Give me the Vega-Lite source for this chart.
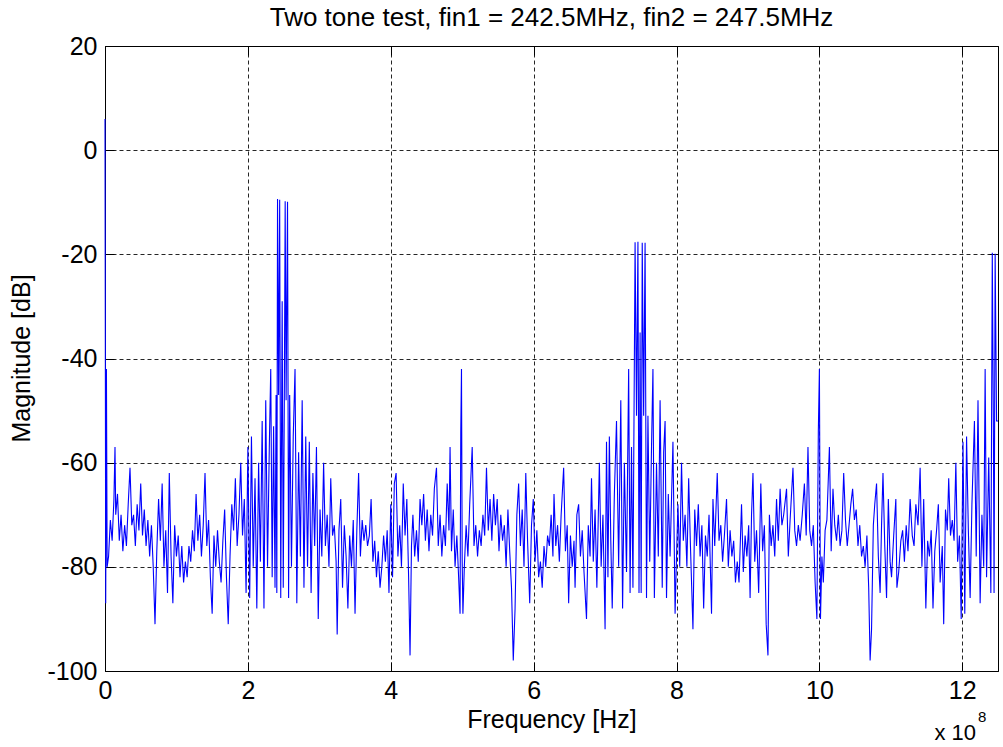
{
  "$schema": "https://vega.github.io/schema/vega-lite/v6.json",
  "width": 893,
  "height": 625,
  "autosize": "none",
  "padding": {"left": 105, "top": 46, "right": 5, "bottom": 76},
  "background": "white",
  "datasets": {
    "spec": [
      {"f":0,"m":6},{"f":0.01,"m":-87},{"f":0.02,"m":-42},{"f":0.03,"m":-80},{"f":0.05,"m":-78},{"f":0.075,"m":-71},{"f":0.1,"m":-75},{"f":0.125,"m":-67},{"f":0.14,"m":-57},{"f":0.15,"m":-70},
      {"f":0.175,"m":-66},{"f":0.2,"m":-75},{"f":0.225,"m":-70},{"f":0.25,"m":-77},{"f":0.275,"m":-72},{"f":0.3,"m":-76},{"f":0.325,"m":-68},{"f":0.35,"m":-61},{"f":0.375,"m":-72},{"f":0.4,"m":-70},
      {"f":0.425,"m":-76},{"f":0.45,"m":-68},{"f":0.475,"m":-73},{"f":0.5,"m":-64},{"f":0.525,"m":-74},{"f":0.55,"m":-69},{"f":0.575,"m":-76},{"f":0.6,"m":-71},{"f":0.625,"m":-78},{"f":0.65,"m":-72},
      {"f":0.675,"m":-80},{"f":0.7,"m":-91},{"f":0.725,"m":-77},{"f":0.75,"m":-67},{"f":0.775,"m":-75},{"f":0.8,"m":-64},{"f":0.825,"m":-80},{"f":0.85,"m":-73},{"f":0.875,"m":-85},{"f":0.9,"m":-62},
      {"f":0.925,"m":-78},{"f":0.95,"m":-87},{"f":0.975,"m":-72},{"f":1.0,"m":-78},{"f":1.025,"m":-74},{"f":1.05,"m":-82},{"f":1.075,"m":-76},{"f":1.1,"m":-83},{"f":1.125,"m":-79},{"f":1.15,"m":-82},
      {"f":1.175,"m":-76},{"f":1.2,"m":-79},{"f":1.225,"m":-73},{"f":1.25,"m":-77},{"f":1.275,"m":-66},{"f":1.3,"m":-75},{"f":1.325,"m":-70},{"f":1.35,"m":-78},{"f":1.375,"m":-72},{"f":1.4,"m":-62},
      {"f":1.425,"m":-76},{"f":1.45,"m":-71},{"f":1.475,"m":-82},{"f":1.5,"m":-89},{"f":1.525,"m":-74},{"f":1.55,"m":-80},{"f":1.575,"m":-73},{"f":1.6,"m":-79},{"f":1.625,"m":-83},{"f":1.65,"m":-75},
      {"f":1.675,"m":-69},{"f":1.7,"m":-82},{"f":1.725,"m":-91},{"f":1.75,"m":-78},{"f":1.775,"m":-68},{"f":1.8,"m":-73},{"f":1.825,"m":-63},{"f":1.85,"m":-76},{"f":1.875,"m":-70},{"f":1.9,"m":-60},
      {"f":1.925,"m":-74},{"f":1.95,"m":-67},{"f":1.975,"m":-85},{"f":2.0,"m":-57},{"f":2.025,"m":-86},{"f":2.05,"m":-55},{"f":2.075,"m":-80},{"f":2.1,"m":-63},{"f":2.125,"m":-88},{"f":2.15,"m":-60},
      {"f":2.175,"m":-79},{"f":2.2,"m":-52},{"f":2.225,"m":-88},{"f":2.25,"m":-48},{"f":2.275,"m":-80},{"f":2.3,"m":-57},{"f":2.32,"m":-42},{"f":2.34,"m":-82},{"f":2.36,"m":-53},{"f":2.38,"m":-84},
      {"f":2.395,"m":-47},{"f":2.405,"m":-85},{"f":2.415,"m":-9.4},{"f":2.43,"m":-47},{"f":2.445,"m":-9.5},{"f":2.46,"m":-86},{"f":2.48,"m":-29},{"f":2.495,"m":-84},{"f":2.51,"m":-48},{"f":2.522,"m":-9.8},
      {"f":2.535,"m":-48},{"f":2.555,"m":-9.9},{"f":2.57,"m":-86},{"f":2.585,"m":-47},{"f":2.61,"m":-80},{"f":2.635,"m":-55},{"f":2.66,"m":-42},{"f":2.685,"m":-87},{"f":2.71,"m":-58},{"f":2.735,"m":-78},
      {"f":2.76,"m":-48},{"f":2.785,"m":-84},{"f":2.81,"m":-55},{"f":2.835,"m":-80},{"f":2.86,"m":-56},{"f":2.885,"m":-85},{"f":2.91,"m":-62},{"f":2.935,"m":-76},{"f":2.96,"m":-57},{"f":2.985,"m":-90},
      {"f":3.01,"m":-69},{"f":3.035,"m":-78},{"f":3.06,"m":-60},{"f":3.085,"m":-76},{"f":3.11,"m":-70},{"f":3.135,"m":-80},{"f":3.16,"m":-63},{"f":3.185,"m":-74},{"f":3.21,"m":-72},{"f":3.235,"m":-79},
      {"f":3.25,"m":-93},{"f":3.275,"m":-73},{"f":3.3,"m":-67},{"f":3.325,"m":-84},{"f":3.35,"m":-72},{"f":3.375,"m":-78},{"f":3.4,"m":-88},{"f":3.425,"m":-74},{"f":3.45,"m":-80},{"f":3.475,"m":-71},
      {"f":3.5,"m":-89},{"f":3.525,"m":-73},{"f":3.55,"m":-62},{"f":3.575,"m":-78},{"f":3.6,"m":-71},{"f":3.625,"m":-75},{"f":3.65,"m":-72},{"f":3.675,"m":-76},{"f":3.7,"m":-74},{"f":3.725,"m":-67},
      {"f":3.75,"m":-79},{"f":3.775,"m":-75},{"f":3.8,"m":-82},{"f":3.825,"m":-77},{"f":3.85,"m":-84},{"f":3.875,"m":-80},{"f":3.9,"m":-74},{"f":3.925,"m":-79},{"f":3.95,"m":-73},{"f":3.975,"m":-85},
      {"f":4.0,"m":-68},{"f":4.025,"m":-82},{"f":4.05,"m":-64},{"f":4.075,"m":-62},{"f":4.1,"m":-78},{"f":4.125,"m":-72},{"f":4.15,"m":-80},{"f":4.175,"m":-64},{"f":4.2,"m":-74},{"f":4.225,"m":-67},
      {"f":4.25,"m":-82},{"f":4.27,"m":-97},{"f":4.29,"m":-76},{"f":4.31,"m":-70},{"f":4.335,"m":-78},{"f":4.36,"m":-73},{"f":4.385,"m":-79},{"f":4.41,"m":-67},{"f":4.435,"m":-72},{"f":4.46,"m":-66},
      {"f":4.485,"m":-75},{"f":4.51,"m":-69},{"f":4.535,"m":-77},{"f":4.56,"m":-70},{"f":4.585,"m":-74},{"f":4.61,"m":-65},{"f":4.64,"m":-61},{"f":4.665,"m":-76},{"f":4.69,"m":-70},{"f":4.715,"m":-78},
      {"f":4.74,"m":-72},{"f":4.765,"m":-76},{"f":4.79,"m":-64},{"f":4.815,"m":-73},{"f":4.83,"m":-57},{"f":4.85,"m":-77},{"f":4.875,"m":-69},{"f":4.9,"m":-80},{"f":4.925,"m":-74},{"f":4.95,"m":-82},
      {"f":4.97,"m":-89},{"f":4.98,"m":-54},{"f":4.99,"m":-42},{"f":5.0,"m":-79},{"f":5.01,"m":-89},{"f":5.03,"m":-80},{"f":5.055,"m":-72},{"f":5.08,"m":-78},{"f":5.105,"m":-68},{"f":5.14,"m":-57},
      {"f":5.165,"m":-76},{"f":5.19,"m":-72},{"f":5.215,"m":-78},{"f":5.24,"m":-73},{"f":5.265,"m":-76},{"f":5.29,"m":-70},{"f":5.315,"m":-74},{"f":5.34,"m":-61},{"f":5.365,"m":-73},{"f":5.39,"m":-67},
      {"f":5.415,"m":-75},{"f":5.44,"m":-66},{"f":5.465,"m":-72},{"f":5.49,"m":-67},{"f":5.515,"m":-77},{"f":5.54,"m":-70},{"f":5.565,"m":-75},{"f":5.59,"m":-72},{"f":5.615,"m":-80},{"f":5.64,"m":-69},
      {"f":5.665,"m":-77},{"f":5.69,"m":-84},{"f":5.715,"m":-98},{"f":5.74,"m":-88},{"f":5.765,"m":-70},{"f":5.79,"m":-64},{"f":5.815,"m":-76},{"f":5.84,"m":-69},{"f":5.865,"m":-80},{"f":5.89,"m":-62},
      {"f":5.915,"m":-75},{"f":5.945,"m":-87},{"f":5.97,"m":-72},{"f":5.995,"m":-67},{"f":6.02,"m":-79},{"f":6.045,"m":-73},{"f":6.07,"m":-82},{"f":6.095,"m":-79},{"f":6.12,"m":-84},{"f":6.145,"m":-76},
      {"f":6.17,"m":-80},{"f":6.195,"m":-74},{"f":6.22,"m":-76},{"f":6.245,"m":-70},{"f":6.27,"m":-78},{"f":6.285,"m":-66},{"f":6.31,"m":-76},{"f":6.335,"m":-72},{"f":6.36,"m":-79},{"f":6.385,"m":-70},
      {"f":6.42,"m":-61},{"f":6.445,"m":-77},{"f":6.47,"m":-72},{"f":6.49,"m":-87},{"f":6.515,"m":-74},{"f":6.54,"m":-80},{"f":6.565,"m":-75},{"f":6.58,"m":-84},{"f":6.605,"m":-70},{"f":6.63,"m":-68},
      {"f":6.655,"m":-78},{"f":6.68,"m":-73},{"f":6.705,"m":-81},{"f":6.74,"m":-90},{"f":6.765,"m":-72},{"f":6.79,"m":-78},{"f":6.81,"m":-63},{"f":6.835,"m":-79},{"f":6.86,"m":-69},{"f":6.885,"m":-84},
      {"f":6.92,"m":-60},{"f":6.945,"m":-80},{"f":6.97,"m":-70},{"f":7.0,"m":-92},{"f":7.02,"m":-56},{"f":7.04,"m":-82},{"f":7.06,"m":-55},{"f":7.08,"m":-75},{"f":7.1,"m":-88},{"f":7.13,"m":-66},
      {"f":7.16,"m":-52},{"f":7.19,"m":-80},{"f":7.22,"m":-48},{"f":7.245,"m":-88},{"f":7.27,"m":-60},{"f":7.3,"m":-81},{"f":7.33,"m":-42},{"f":7.35,"m":-85},{"f":7.37,"m":-57},{"f":7.39,"m":-84},
      {"f":7.405,"m":-51},{"f":7.42,"m":-17.7},{"f":7.44,"m":-51},{"f":7.46,"m":-17.6},{"f":7.475,"m":-85},{"f":7.49,"m":-35},{"f":7.505,"m":-85},{"f":7.52,"m":-17.8},{"f":7.54,"m":-51},{"f":7.56,"m":-17.8},
      {"f":7.58,"m":-86},{"f":7.6,"m":-51},{"f":7.625,"m":-79},{"f":7.65,"m":-57},{"f":7.67,"m":-42},{"f":7.69,"m":-86},{"f":7.72,"m":-60},{"f":7.745,"m":-78},{"f":7.77,"m":-48},{"f":7.8,"m":-84},
      {"f":7.82,"m":-58},{"f":7.84,"m":-52},{"f":7.86,"m":-86},{"f":7.885,"m":-66},{"f":7.91,"m":-78},{"f":7.95,"m":-56},{"f":7.98,"m":-89},{"f":8.0,"m":-78},{"f":8.02,"m":-68},{"f":8.045,"m":-80},
      {"f":8.07,"m":-60},{"f":8.095,"m":-75},{"f":8.12,"m":-70},{"f":8.145,"m":-80},{"f":8.17,"m":-63},{"f":8.195,"m":-76},{"f":8.23,"m":-92},{"f":8.255,"m":-69},{"f":8.28,"m":-76},{"f":8.305,"m":-68},
      {"f":8.33,"m":-78},{"f":8.355,"m":-72},{"f":8.38,"m":-88},{"f":8.405,"m":-74},{"f":8.43,"m":-78},{"f":8.455,"m":-70},{"f":8.49,"m":-89},{"f":8.51,"m":-67},{"f":8.535,"m":-76},{"f":8.57,"m":-62},
      {"f":8.595,"m":-75},{"f":8.62,"m":-72},{"f":8.645,"m":-79},{"f":8.67,"m":-74},{"f":8.7,"m":-67},{"f":8.725,"m":-80},{"f":8.75,"m":-73},{"f":8.775,"m":-78},{"f":8.8,"m":-75},{"f":8.825,"m":-83},
      {"f":8.85,"m":-79},{"f":8.875,"m":-83},{"f":8.91,"m":-68},{"f":8.935,"m":-81},{"f":8.96,"m":-74},{"f":8.985,"m":-78},{"f":9.01,"m":-72},{"f":9.03,"m":-86},{"f":9.05,"m":-70},{"f":9.07,"m":-62},
      {"f":9.095,"m":-79},{"f":9.12,"m":-73},{"f":9.15,"m":-85},{"f":9.18,"m":-64},{"f":9.205,"m":-77},{"f":9.23,"m":-72},{"f":9.255,"m":-91},{"f":9.28,"m":-97},{"f":9.3,"m":-70},{"f":9.325,"m":-76},
      {"f":9.35,"m":-72},{"f":9.375,"m":-78},{"f":9.4,"m":-67},{"f":9.425,"m":-75},{"f":9.45,"m":-65},{"f":9.475,"m":-72},{"f":9.5,"m":-70},{"f":9.54,"m":-65},{"f":9.565,"m":-78},{"f":9.59,"m":-71},
      {"f":9.63,"m":-61},{"f":9.655,"m":-73},{"f":9.68,"m":-76},{"f":9.705,"m":-72},{"f":9.73,"m":-75},{"f":9.76,"m":-70},{"f":9.79,"m":-64},{"f":9.815,"m":-74},{"f":9.84,"m":-57},{"f":9.865,"m":-73},
      {"f":9.89,"m":-76},{"f":9.915,"m":-72},{"f":9.94,"m":-83},{"f":9.965,"m":-90},{"f":9.985,"m":-54},{"f":10.0,"m":-42},{"f":10.015,"m":-90},{"f":10.035,"m":-78},{"f":10.055,"m":-83},{"f":10.08,"m":-73},
      {"f":10.105,"m":-71},{"f":10.14,"m":-57},{"f":10.165,"m":-77},{"f":10.19,"m":-65},{"f":10.215,"m":-72},{"f":10.24,"m":-75},{"f":10.265,"m":-70},{"f":10.29,"m":-76},{"f":10.315,"m":-73},{"f":10.34,"m":-62},
      {"f":10.365,"m":-71},{"f":10.39,"m":-76},{"f":10.415,"m":-72},{"f":10.44,"m":-68},{"f":10.465,"m":-65},{"f":10.49,"m":-71},{"f":10.515,"m":-69},{"f":10.54,"m":-76},{"f":10.565,"m":-72},{"f":10.59,"m":-78},
      {"f":10.615,"m":-76},{"f":10.64,"m":-80},{"f":10.665,"m":-74},{"f":10.69,"m":-84},{"f":10.71,"m":-98},{"f":10.73,"m":-92},{"f":10.755,"m":-72},{"f":10.775,"m":-68},{"f":10.8,"m":-64},{"f":10.825,"m":-78},
      {"f":10.85,"m":-85},{"f":10.87,"m":-72},{"f":10.89,"m":-62},{"f":10.915,"m":-76},{"f":10.94,"m":-86},{"f":10.965,"m":-67},{"f":10.99,"m":-79},{"f":11.01,"m":-82},{"f":11.04,"m":-74},{"f":11.07,"m":-67},
      {"f":11.085,"m":-84},{"f":11.11,"m":-81},{"f":11.14,"m":-75},{"f":11.165,"m":-73},{"f":11.19,"m":-79},{"f":11.215,"m":-72},{"f":11.24,"m":-77},{"f":11.27,"m":-67},{"f":11.3,"m":-74},{"f":11.325,"m":-76},
      {"f":11.35,"m":-68},{"f":11.38,"m":-72},{"f":11.41,"m":-61},{"f":11.435,"m":-80},{"f":11.46,"m":-67},{"f":11.49,"m":-88},{"f":11.515,"m":-75},{"f":11.54,"m":-78},{"f":11.565,"m":-73},{"f":11.59,"m":-88},
      {"f":11.615,"m":-77},{"f":11.64,"m":-73},{"f":11.665,"m":-68},{"f":11.69,"m":-83},{"f":11.72,"m":-76},{"f":11.74,"m":-91},{"f":11.765,"m":-69},{"f":11.79,"m":-73},{"f":11.81,"m":-63},{"f":11.835,"m":-74},
      {"f":11.86,"m":-71},{"f":11.885,"m":-75},{"f":11.91,"m":-60},{"f":11.935,"m":-79},{"f":11.96,"m":-74},{"f":11.985,"m":-90},{"f":12.01,"m":-56},{"f":12.035,"m":-89},{"f":12.06,"m":-55},{"f":12.085,"m":-73},
      {"f":12.11,"m":-86},{"f":12.135,"m":-68},{"f":12.17,"m":-52},{"f":12.195,"m":-78},{"f":12.22,"m":-48},{"f":12.25,"m":-87},{"f":12.275,"m":-70},{"f":12.3,"m":-80},{"f":12.32,"m":-42},{"f":12.34,"m":-82},
      {"f":12.37,"m":-59},{"f":12.4,"m":-85},{"f":12.42,"m":-19.7},{"f":12.435,"m":-52},{"f":12.445,"m":-85},{"f":12.46,"m":-19.9},{"f":12.48,"m":-52},{"f":12.5,"m":-52}
    ]
  },
  "data": {"name": "spec"},
  "layer": [
    {
      "mark": {"type": "line", "color": "#0000ff", "strokeWidth": 1.1},
      "encoding": {
        "x": {"field": "f", "type": "quantitative", "scale": {"domain": [0, 12.5], "nice": false, "zero": false},
          "axis": {"orient": "bottom", "values": [0, 2, 4, 6, 8, 10, 12], "title": "Frequency [Hz]", "domain": false, "ticks": true, "tickSize": -9, "tickColor": "#000", "grid": true, "gridColor": "#000", "gridDash": [4, 3], "gridOpacity": 0.85, "labelPadding": 16, "labelFlush": false, "labelOverlap": false, "labelExpr": "toString(datum.value)", "titleY": 56, "titleBaseline": "alphabetic"}},
        "y": {"field": "m", "type": "quantitative", "scale": {"domain": [-100, 20], "nice": false, "zero": false},
          "axis": {"orient": "left", "values": [-100, -80, -60, -40, -20, 0, 20], "title": "Magnitude [dB]", "domain": false, "ticks": true, "tickSize": -9, "tickColor": "#000", "grid": true, "gridColor": "#000", "gridDash": [4, 3], "gridOpacity": 0.85, "labelPadding": 17, "labelFlush": false, "labelOverlap": false, "labelExpr": "toString(datum.value)", "titleX": -76, "titleY": 312, "titleBaseline": "alphabetic"}}
      }
    },
    {
      "mark": {"type": "line", "opacity": 0},
      "encoding": {
        "x": {"field": "f", "type": "quantitative", "scale": {"domain": [0, 12.5], "nice": false, "zero": false},
          "axis": {"orient": "top", "values": [0, 2, 4, 6, 8, 10, 12], "title": null, "labels": false, "domain": false, "grid": false, "ticks": true, "tickSize": -9, "tickColor": "#000"}},
        "y": {"field": "m", "type": "quantitative", "scale": {"domain": [-100, 20], "nice": false, "zero": false},
          "axis": {"orient": "right", "values": [-100, -80, -60, -40, -20, 0, 20], "title": null, "labels": false, "domain": false, "grid": false, "ticks": true, "tickSize": -9, "tickColor": "#000"}}
      }
    },
    {
      "data": {"values": [{"t": "Two tone test, fin1 = 242.5MHz, fin2 = 247.5MHz"}]},
      "mark": {"type": "text", "align": "center", "baseline": "alphabetic", "dy": -20, "font": "Liberation Sans", "fontSize": 26, "color": "#000"},
      "encoding": {
        "x": {"datum": 6.25, "axis": null},
        "y": {"datum": 20, "axis": null},
        "text": {"field": "t"}
      }
    },
    {
      "data": {"values": [{"t": "x 10"}]},
      "mark": {"type": "text", "align": "right", "baseline": "alphabetic", "dx": -22, "dy": 69, "font": "Liberation Sans", "fontSize": 22, "color": "#000"},
      "encoding": {
        "x": {"datum": 12.5, "axis": null},
        "y": {"datum": -100, "axis": null},
        "text": {"field": "t"}
      }
    },
    {
      "data": {"values": [{"t": "8"}]},
      "mark": {"type": "text", "align": "left", "baseline": "alphabetic", "dx": -20, "dy": 51, "font": "Liberation Sans", "fontSize": 15, "color": "#000"},
      "encoding": {
        "x": {"datum": 12.5, "axis": null},
        "y": {"datum": -100, "axis": null},
        "text": {"field": "t"}
      }
    }
  ],
  "resolve": {"axis": {"x": "independent", "y": "independent"}},
  "config": {
    "view": {"stroke": "#000", "strokeWidth": 1},
    "axis": {"labelFont": "Liberation Sans", "titleFont": "Liberation Sans", "labelFontSize": 25, "titleFontSize": 25, "labelColor": "#000", "titleColor": "#000", "titleFontWeight": "normal"}
  }
}
